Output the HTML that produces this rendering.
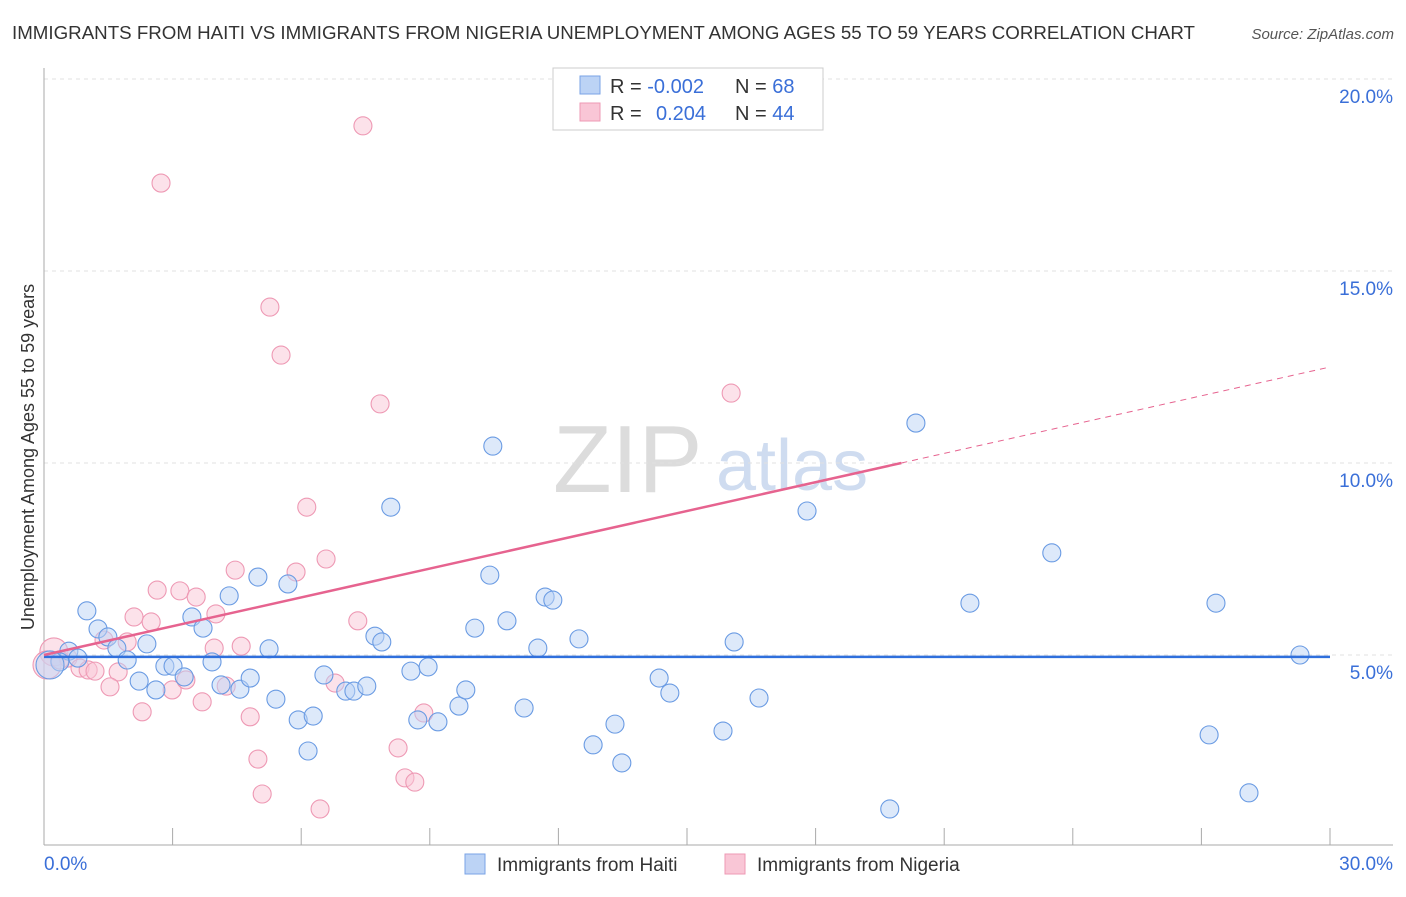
<!DOCTYPE html>
<html><head><meta charset="utf-8"><style>
body{margin:0;background:#fff;font-family:"Liberation Sans",sans-serif;}
svg text{font-family:"Liberation Sans",sans-serif;}
</style></head><body>
<svg id="chart" width="1406" height="892" viewBox="0 0 1406 892" xmlns="http://www.w3.org/2000/svg">
<text x="12" y="39" font-size="18.5" fill="#333" textLength="1183" lengthAdjust="spacingAndGlyphs">IMMIGRANTS FROM HAITI VS IMMIGRANTS FROM NIGERIA UNEMPLOYMENT AMONG AGES 55 TO 59 YEARS CORRELATION CHART</text>
<text x="1394" y="39" font-size="15" fill="#555" font-style="italic" text-anchor="end">Source: ZipAtlas.com</text>
<g>
<text x="553" y="492" font-size="96" fill="#dcdcdc" font-family="Liberation Serif, serif">ZIP</text>
<text x="716" y="490" font-size="72" fill="#cfdcf0">atlas</text>
</g>
<g id="grid"></g>
<g id="axes"></g>
<g id="marks"></g>
<text transform="translate(34,457) rotate(-90)" font-size="18" fill="#333" text-anchor="middle">Unemployment Among Ages 55 to 59 years</text>
<g>
<rect x="553" y="68" width="270" height="62" fill="#fff" stroke="#ccc"/>
<rect x="580" y="76" width="20" height="18" fill="#bcd3f5" stroke="#7aa3e6"/>
<rect x="580" y="103" width="20" height="18" fill="#f9c6d6" stroke="#ee99b4"/>
<text x="610" y="93" font-size="20" fill="#333">R = <tspan fill="#3a6fd8">-0.002</tspan></text>
<text x="735" y="93" font-size="20" fill="#333">N = <tspan fill="#3a6fd8">68</tspan></text>
<text x="610" y="120" font-size="20" fill="#333">R = <tspan fill="#3a6fd8" x="656">0.204</tspan></text>
<text x="735" y="120" font-size="20" fill="#333">N = <tspan fill="#3a6fd8">44</tspan></text>
</g>
<g>
<rect x="465" y="854" width="20" height="20" fill="#bcd3f5" stroke="#7aa3e6"/>
<text x="497" y="871" font-size="19" fill="#333">Immigrants from Haiti</text>
<rect x="725" y="854" width="20" height="20" fill="#f9c6d6" stroke="#ee99b4"/>
<text x="757" y="871" font-size="19" fill="#333">Immigrants from Nigeria</text>
</g>
</svg>
<script>
const yTicks=[5,10,15,20];
const yTickLabels=["5.0%","10.0%","15.0%","20.0%"];
const xTickLabels=["0.0%","30.0%"];
const haitiX=[1.00,1.26,1.49,1.70,1.94,2.40,2.22,2.61,2.82,3.01,3.27,3.45,3.71,3.92,4.13,4.32,4.57,4.81,4.99,5.25,5.41,5.69,5.93,6.16,6.28,6.53,7.04,7.23,7.53,7.72,7.88,8.09,8.56,8.72,8.96,9.19,9.68,9.84,10.05,10.40,10.47,10.80,11.20,11.52,11.69,11.87,12.48,12.81,13.32,13.48,14.35,14.60,15.84,16.10,16.68,17.80,19.73,20.34,21.60,23.51,27.18,27.34,28.11,29.30,0.58,0.37,0.14,0.79];
const haitiY=[6.15,5.68,5.47,5.18,4.87,5.29,4.32,4.09,4.71,4.71,4.43,5.99,5.70,4.82,4.22,6.54,4.11,4.40,7.03,5.16,3.85,6.85,3.31,2.50,3.41,4.48,4.06,4.06,4.19,5.49,5.34,8.85,4.58,3.31,4.69,3.26,3.67,4.09,5.70,7.08,10.44,5.89,3.62,5.18,6.51,6.43,5.42,2.66,3.20,2.19,4.40,4.01,3.02,5.34,3.88,8.75,0.99,11.04,6.35,7.66,2.92,6.35,1.41,5.00,5.10,4.82,4.74,4.92];
const nigeriaX=[7.44,2.73,5.27,5.53,7.84,16.03,6.13,6.58,4.46,5.88,2.64,3.17,3.55,2.10,2.50,4.01,7.32,1.94,1.40,4.60,3.97,0.23,0.56,0.84,1.03,1.19,1.73,1.54,2.99,3.31,4.25,6.79,2.29,3.69,4.81,8.86,8.26,4.99,8.42,8.65,5.09,6.44,0.07,0.37];
const nigeriaY=[18.78,17.29,14.06,12.81,11.54,11.82,8.85,7.50,7.21,7.16,6.69,6.67,6.51,5.99,5.86,6.07,5.89,5.34,5.39,5.23,5.18,5.08,4.92,4.66,4.61,4.58,4.56,4.17,4.09,4.35,4.19,4.27,3.52,3.78,3.39,3.49,2.58,2.29,1.80,1.69,1.38,0.99,4.74,4.87];
const haitiTrend=[4.95,4.95];
const nigeriaTrend=[5.0,12.5];
const nigeriaSolidEnd=20;

const NS="http://www.w3.org/2000/svg";
const X=v=>44+v*(1330-44)/30;
const Y=v=>847-v*38.4;
function mk(tag,attrs,parent){const e=document.createElementNS(NS,tag);for(const k in attrs)e.setAttribute(k,attrs[k]);parent.appendChild(e);return e;}
const grid=document.getElementById('grid'),axes=document.getElementById('axes'),marks=document.getElementById('marks');
yTicks.forEach((t,i)=>{
  const l=mk('line',{x1:44,x2:1393,y1:Y(t),y2:Y(t),stroke:'#e0e0e0','stroke-dasharray':'4,4'},grid);
  
  
  const tx=mk('text',{x:1393,y:Y(t)+24,'font-size':19,fill:'#3a6fd8','text-anchor':'end'},axes);
  tx.textContent=yTickLabels[i];
  
  
});
let a=mk('line',{x1:44,x2:44,y1:68,y2:845,stroke:'#aaa'},axes);

a=mk('line',{x1:44,x2:1393,y1:845,y2:845,stroke:'#aaa'},axes);

for(let i=0;i<=10;i++){
  const t=mk('line',{x1:X(i*3),x2:X(i*3),y1:828,y2:845,stroke:'#aaa'},axes);
  
  
}
let xl=mk('text',{x:44,y:870,'font-size':19,fill:'#3a6fd8'},axes);xl.textContent=xTickLabels[0];

xl=mk('text',{x:1393,y:870,'font-size':19,fill:'#3a6fd8','text-anchor':'end'},axes);xl.textContent=xTickLabels[1];


function pts(xs,ys,fill,stroke,name){
  xs.forEach((x,i)=>{
    const r=(x<0.3)?14:9;
    const c=mk('circle',{cx:X(x),cy:Y(ys[i]),r:r,fill:fill,'fill-opacity':0.5,stroke:stroke,'stroke-width':1.1},marks);
    
    
  });
}
pts(nigeriaX,nigeriaY,'#f9c6d6','#ee99b4','nigeria-point');
pts(haitiX,haitiY,'#bcd3f5','#6a9be3','haiti-point');

let ln=mk('line',{x1:X(0),x2:X(30),y1:Y(haitiTrend[0]),y2:Y(haitiTrend[1]),stroke:'#2f6fdc','stroke-width':2.5},marks);

const ny=x=>nigeriaTrend[0]+(nigeriaTrend[1]-nigeriaTrend[0])*x/30;
ln=mk('line',{x1:X(0),x2:X(nigeriaSolidEnd),y1:Y(ny(0)),y2:Y(ny(nigeriaSolidEnd)),stroke:'#e6638f','stroke-width':2.5},marks);

ln=mk('line',{x1:X(nigeriaSolidEnd),x2:X(30),y1:Y(ny(nigeriaSolidEnd)),y2:Y(ny(30)),stroke:'#e6638f','stroke-width':1,'stroke-dasharray':'6,5'},marks);

</script>
</body></html>
